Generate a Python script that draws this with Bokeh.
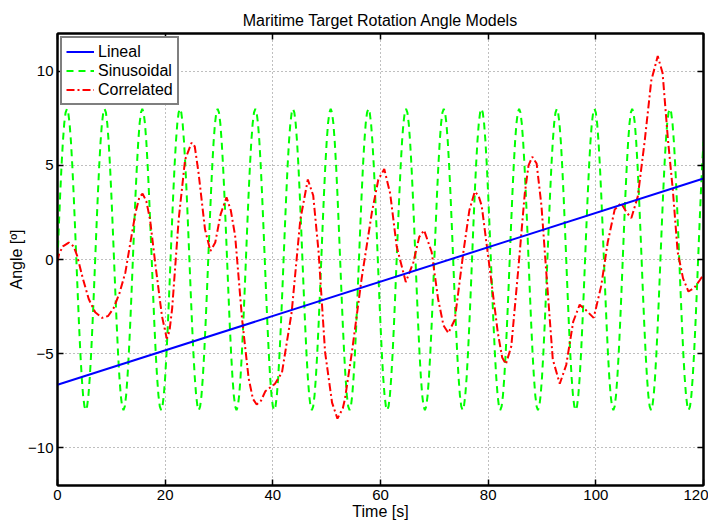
from bokeh.plotting import figure
from bokeh.models import LinearAxis, FixedTicker, Range1d, Legend, LegendItem
from bokeh.embed import file_html
from bokeh.resources import INLINE

# ---------------- data ----------------
title = "Maritime Target Rotation Angle Models"
x_label = "Time [s]"
y_label = "Angle [º]"
x_ticks = [0, 20, 40, 60, 80, 100, 120]
y_ticks = [-10, -5, 0, 5, 10]

# Lineal model: straight line from t=0 to t=120
lin_t = [0, 120]
lin_y = [-6.65, 4.3]

# Sinusoidal model: readings every 0.25 s
sin_step = 0.25
sin_y = [
    0, 1.78, 3.47, 4.99, 6.25, 7.21, 7.80, 8.0, 7.80, 7.21, 6.25, 4.99, 3.47, 1.78, 0, -1.78, -3.47, -4.99, -6.25, -7.21, -7.80, -8.0, -7.80, -7.21, -6.25, -4.99, -3.47, -1.78,
    0, 1.78, 3.47, 4.99, 6.25, 7.21, 7.80, 8.0, 7.80, 7.21, 6.25, 4.99, 3.47, 1.78, 0, -1.78, -3.47, -4.99, -6.25, -7.21, -7.80, -8.0, -7.80, -7.21, -6.25, -4.99, -3.47, -1.78,
    0, 1.78, 3.47, 4.99, 6.25, 7.21, 7.80, 8.0, 7.80, 7.21, 6.25, 4.99, 3.47, 1.78, 0, -1.78, -3.47, -4.99, -6.25, -7.21, -7.80, -8.0, -7.80, -7.21, -6.25, -4.99, -3.47, -1.78,
    0, 1.78, 3.47, 4.99, 6.25, 7.21, 7.80, 8.0, 7.80, 7.21, 6.25, 4.99, 3.47, 1.78, 0, -1.78, -3.47, -4.99, -6.25, -7.21, -7.80, -8.0, -7.80, -7.21, -6.25, -4.99, -3.47, -1.78,
    0, 1.78, 3.47, 4.99, 6.25, 7.21, 7.80, 8.0, 7.80, 7.21, 6.25, 4.99, 3.47, 1.78, 0, -1.78, -3.47, -4.99, -6.25, -7.21, -7.80, -8.0, -7.80, -7.21, -6.25, -4.99, -3.47, -1.78,
    0, 1.78, 3.47, 4.99, 6.25, 7.21, 7.80, 8.0, 7.80, 7.21, 6.25, 4.99, 3.47, 1.78, 0, -1.78, -3.47, -4.99, -6.25, -7.21, -7.80, -8.0, -7.80, -7.21, -6.25, -4.99, -3.47, -1.78,
    0, 1.78, 3.47, 4.99, 6.25, 7.21, 7.80, 8.0, 7.80, 7.21, 6.25, 4.99, 3.47, 1.78, 0, -1.78, -3.47, -4.99, -6.25, -7.21, -7.80, -8.0, -7.80, -7.21, -6.25, -4.99, -3.47, -1.78,
    0, 1.78, 3.47, 4.99, 6.25, 7.21, 7.80, 8.0, 7.80, 7.21, 6.25, 4.99, 3.47, 1.78, 0, -1.78, -3.47, -4.99, -6.25, -7.21, -7.80, -8.0, -7.80, -7.21, -6.25, -4.99, -3.47, -1.78,
    0, 1.78, 3.47, 4.99, 6.25, 7.21, 7.80, 8.0, 7.80, 7.21, 6.25, 4.99, 3.47, 1.78, 0, -1.78, -3.47, -4.99, -6.25, -7.21, -7.80, -8.0, -7.80, -7.21, -6.25, -4.99, -3.47, -1.78,
    0, 1.78, 3.47, 4.99, 6.25, 7.21, 7.80, 8.0, 7.80, 7.21, 6.25, 4.99, 3.47, 1.78, 0, -1.78, -3.47, -4.99, -6.25, -7.21, -7.80, -8.0, -7.80, -7.21, -6.25, -4.99, -3.47, -1.78,
    0, 1.78, 3.47, 4.99, 6.25, 7.21, 7.80, 8.0, 7.80, 7.21, 6.25, 4.99, 3.47, 1.78, 0, -1.78, -3.47, -4.99, -6.25, -7.21, -7.80, -8.0, -7.80, -7.21, -6.25, -4.99, -3.47, -1.78,
    0, 1.78, 3.47, 4.99, 6.25, 7.21, 7.80, 8.0, 7.80, 7.21, 6.25, 4.99, 3.47, 1.78, 0, -1.78, -3.47, -4.99, -6.25, -7.21, -7.80, -8.0, -7.80, -7.21, -6.25, -4.99, -3.47, -1.78,
    0, 1.78, 3.47, 4.99, 6.25, 7.21, 7.80, 8.0, 7.80, 7.21, 6.25, 4.99, 3.47, 1.78, 0, -1.78, -3.47, -4.99, -6.25, -7.21, -7.80, -8.0, -7.80, -7.21, -6.25, -4.99, -3.47, -1.78,
    0, 1.78, 3.47, 4.99, 6.25, 7.21, 7.80, 8.0, 7.80, 7.21, 6.25, 4.99, 3.47, 1.78, 0, -1.78, -3.47, -4.99, -6.25, -7.21, -7.80, -8.0, -7.80, -7.21, -6.25, -4.99, -3.47, -1.78,
    0, 1.78, 3.47, 4.99, 6.25, 7.21, 7.80, 8.0, 7.80, 7.21, 6.25, 4.99, 3.47, 1.78, 0, -1.78, -3.47, -4.99, -6.25, -7.21, -7.80, -8.0, -7.80, -7.21, -6.25, -4.99, -3.47, -1.78,
    0, 1.78, 3.47, 4.99, 6.25, 7.21, 7.80, 8.0, 7.80, 7.21, 6.25, 4.99, 3.47, 1.78, 0, -1.78, -3.47, -4.99, -6.25, -7.21, -7.80, -8.0, -7.80, -7.21, -6.25, -4.99, -3.47, -1.78,
    0, 1.78, 3.47, 4.99, 6.25, 7.21, 7.80, 8.0, 7.80, 7.21, 6.25, 4.99, 3.47, 1.78, 0, -1.78, -3.47, -4.99, -6.25, -7.21, -7.80, -8.0, -7.80, -7.21, -6.25, -4.99, -3.47, -1.78,
    0, 1.78, 3.47, 4.99, 6.25,
]
sin_t = [i * sin_step for i in range(len(sin_y))]

# Correlated model: readings along the curve
cor_t = [0, 0.3, 1.0, 2.1, 3.0, 3.65, 4.7, 5.8, 7.0, 8.3, 9.4, 10.4, 11.5, 12.6, 13.6,
         14.5, 15.2, 15.8, 16.5, 17.2, 18.2, 19.4, 20.3, 20.8, 21.3, 22.5, 23.7, 24.9,
         25.5, 26.2, 27.4, 28.4, 29.3, 30.3, 31.4, 32.2, 33.0, 34.3, 35.5, 36.3, 37.0,
         37.8, 38.6, 39.5, 40.4, 41.7, 43.5, 45.1, 46.5, 47.5, 48.5, 49.7, 51.0, 52.0,
         53.0, 53.4, 54.7, 56.5, 58.4, 59.6, 60.7, 61.8, 63.0, 64.7, 66.1, 67.2, 68.1,
         69.5, 70.7, 71.7, 72.6, 73.8, 75.4, 76.5, 77.5, 78.2, 78.8, 80.3, 81.8, 82.6,
         83.3, 84.3, 85.6, 86.8, 87.5, 88.2, 89.0, 89.9, 90.8, 92.0, 93.3, 94.5, 95.8,
         97.0, 98.2, 99.6, 101.0, 102.2, 103.5, 104.7, 105.7, 106.6, 107.8, 109.1, 110.3,
         111.5, 112.4, 113.4, 114.3, 115.2, 116.2, 117.2, 118.3, 119.3, 120.0]
cor_y = [-0.1, 0.3, 0.7, 0.9, 0.7, 0.2, -1.0, -2.1, -2.8, -3.1, -3.0, -2.6, -1.8, -0.7, 1.0,
         2.5, 3.3, 3.5, 3.1, 2.1, -0.3, -3.0, -4.2, -3.8, -2.6, 2.1, 5.3, 6.2,
         6.0, 4.6, 1.6, 0.45, 0.9, 2.4, 3.3, 2.6, 1.25, -3.2, -6.3, -7.4, -7.7,
         -7.5, -7.0, -6.8, -6.6, -6.0, -2.8, 2.1, 4.25, 3.4, 0.4, -4.9, -7.6, -8.45,
         -7.9, -7.4, -4.9, -1.0, 2.5, 4.25, 4.8, 3.5, 0.7, -1.2, -0.15, 1.2, 1.55,
         0.4, -2.1, -3.5, -3.9, -3.2, 0.4, 2.6, 3.6, 3.4, 2.85, -0.5, -3.9, -5.2,
         -5.55, -4.6, -0.5, 3.5, 5.0, 5.45, 5.1, 2.85, -0.7, -5.3, -6.6, -5.6, -3.3,
         -2.4, -2.7, -3.1, -1.4, 0.9, 2.65, 3.0, 2.5, 2.2, 3.35, 6.35, 9.5,
         10.8, 9.9, 6.35, 3.7, 0.4, -1.0, -1.7, -1.5, -1.1, -0.8]

series_names = ["Lineal", "Sinusoidal", "Correlated"]
series_colors = ["#0000ff", "#00ff00", "#ff0000"]

FONT = "Liberation Sans"
FS_TICK = "15px"
FS_TEXT = "16px"

p = figure(
    frame_width=646, frame_height=452,
    x_range=Range1d(0, 120), y_range=Range1d(-12, 12),
    output_backend="svg", toolbar_location=None,
    min_border_left=57, min_border_right=5, min_border_top=33, min_border_bottom=30,
)
p.background_fill_color = "white"
p.border_fill_color = "white"
p.outline_line_color = "black"
p.outline_line_width = 2

p.title.text = title
p.title.align = "center"
p.title.text_font = FONT
p.title.text_font_size = FS_TEXT
p.title.text_font_style = "normal"
p.title.text_color = "black"

for ax in (p.xaxis[0], p.yaxis[0]):
    ax.axis_line_width = 2
    ax.major_tick_in = 6
    ax.major_tick_out = 0
    ax.major_tick_line_width = 1.5
    ax.minor_tick_line_color = None
    ax.major_label_text_font = FONT
    ax.major_label_text_font_size = FS_TICK
    ax.major_label_text_color = "black"
    ax.axis_label_text_font = FONT
    ax.axis_label_text_font_size = FS_TEXT
    ax.axis_label_text_font_style = "normal"
    ax.axis_label_text_color = "black"

p.xaxis[0].ticker = FixedTicker(ticks=x_ticks)
p.yaxis[0].ticker = FixedTicker(ticks=y_ticks)
p.xaxis[0].axis_label = x_label
p.yaxis[0].axis_label = y_label
p.xaxis[0].major_label_standoff = 4
p.xaxis[0].axis_label_standoff = 0
p.yaxis[0].major_label_standoff = 4
p.yaxis[0].axis_label_standoff = 0

# box-style ticks on top and right (no labels)
top = LinearAxis(ticker=FixedTicker(ticks=x_ticks))
right = LinearAxis(ticker=FixedTicker(ticks=y_ticks))
for ax in (top, right):
    ax.axis_line_width = 2
    ax.major_tick_in = 6
    ax.major_tick_out = 0
    ax.major_tick_line_width = 1.5
    ax.minor_tick_line_color = None
    ax.major_label_text_font_size = "0px"
    ax.major_label_text_color = None
    ax.major_label_standoff = 0
p.add_layout(top, "above")
p.add_layout(right, "right")

p.xgrid.ticker = FixedTicker(ticks=x_ticks)
p.ygrid.ticker = FixedTicker(ticks=y_ticks)
for g in (p.xgrid[0], p.ygrid[0]):
    g.grid_line_color = "#7f7f7f"
    g.grid_line_dash = "1 3"
    g.grid_line_width = 1

r_sin = p.line(sin_t, sin_y, line_color=series_colors[1], line_width=2, line_dash="7 5")
r_cor = p.line(cor_t, cor_y, line_color=series_colors[2], line_width=2, line_dash="8 3 2 3")
r_lin = p.line(lin_t, lin_y, line_color=series_colors[0], line_width=2)

legend = Legend(
    items=[
        LegendItem(label=series_names[0], renderers=[r_lin]),
        LegendItem(label=series_names[1], renderers=[r_sin]),
        LegendItem(label=series_names[2], renderers=[r_cor]),
    ],
    location="top_left",
    margin=3,
    padding=4,
    spacing=0,
    glyph_width=28,
    glyph_height=19,
    label_height=19,
    label_standoff=4,
    label_text_font=FONT,
    label_text_font_size=FS_TEXT,
    label_text_color="black",
    border_line_color="black",
    border_line_width=2,
    background_fill_color="white",
    background_fill_alpha=1.0,
)
p.add_layout(legend)

open("out.html", "w").write(file_html(p, INLINE))
